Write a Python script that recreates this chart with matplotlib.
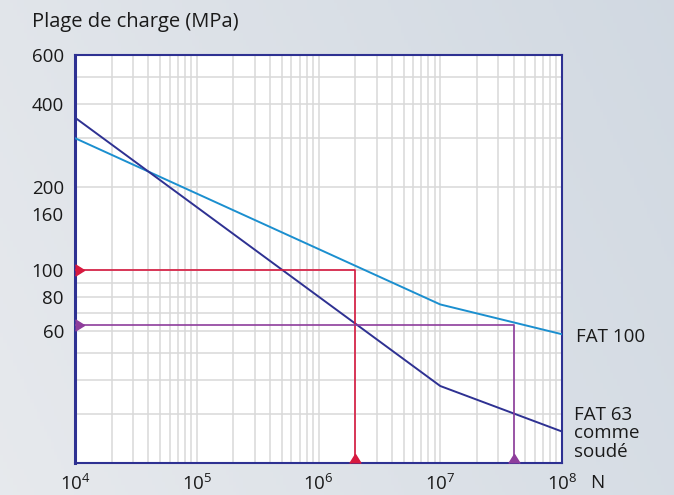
import numpy as np
import matplotlib.pyplot as plt
from matplotlib.ticker import FixedLocator, NullFormatter

plt.rcParams['font.family'] = ['Open Sans', 'DejaVu Sans']
plt.rcParams['mathtext.fontset'] = 'custom'
plt.rcParams['mathtext.rm'] = 'Open Sans'
plt.rcParams['mathtext.it'] = 'Open Sans'

# data
n_fat100 = [1e4, 1e7, 1e8]
s_fat100 = [300, 75, 58.5]
n_fat63 = [1e4, 1e7, 1e8]
s_fat63 = [356, 38, 26]
n_red, s_red = 2e6, 100      # 2 millions de cycles a 100 MPa
n_purple, s_purple = 4e7, 63

x_ticks = [1e4, 1e5, 1e6, 1e7, 1e8]
x_labels = ['$10^{4}$', '$10^{5}$', '$10^{6}$', '$10^{7}$', '$10^{8}$']
y_ticks = [60, 80, 100, 160, 200, 400, 600]
y_grid = [20, 30, 40, 50, 60, 70, 80, 90, 100, 200, 300, 400, 500]
y_min, y_max = 20, 600
x_min, x_max = 1e4, 1e8

navy = '#2e3192'
cyan = '#1b8fcf'
red = '#d7193f'
purple = '#8e3d9c'

fig = plt.figure(figsize=(6.74, 4.95), dpi=100)

# background gradient
bg = fig.add_axes([0, 0, 1, 1], zorder=-10)
gx = np.linspace(0, 1, 200)
gy = np.linspace(0, 1, 150)
GX, GY = np.meshgrid(gx, gy)
c0 = np.array([0.905, 0.915, 0.93])
c1 = np.array([0.82, 0.85, 0.885])
t = np.clip(0.75 * GX + 0.25 * (1 - GY), 0, 1)[..., None]
bg.imshow(c0 * (1 - t) + c1 * t, extent=[0, 1, 0, 1], aspect='auto')
bg.axis('off')

ax = fig.add_axes([75 / 674, 1 - 463 / 495, 487 / 674, 408 / 495])
ax.set_facecolor('white')
ax.set_xscale('log')
ax.set_yscale('log')
ax.set_xlim(x_min, x_max)
ax.set_ylim(y_min, y_max)

ax.set_xticks(x_ticks, x_labels)
ax.set_yticks(y_ticks, [str(v) for v in y_ticks])
ax.yaxis.set_minor_locator(FixedLocator(y_grid))
ax.yaxis.set_minor_formatter(NullFormatter())
ax.xaxis.set_minor_formatter(NullFormatter())
ax.yaxis.remove_overlapping_locs = False
ax.tick_params(which='both', length=0, labelsize=13.5, colors='#1a1a1a')
ax.tick_params(axis='y', pad=8)
ax.tick_params(axis='x', pad=8)
ax.grid(True, which='both', axis='x', color='#d8d8d8', lw=1.1)
ax.grid(False, which='major', axis='y')
ax.grid(True, which='minor', axis='y', color='#d8d8d8', lw=1.1)
ax.set_axisbelow(True)

for side in ['top', 'right', 'bottom']:
    ax.spines[side].set_color(navy)
    ax.spines[side].set_linewidth(1.5)
ax.spines['left'].set_color(navy)
ax.spines['left'].set_linewidth(2.2)

# S-N curves
ax.plot(n_fat100, s_fat100, color=cyan, lw=1.4, zorder=3)
ax.plot(n_fat63, s_fat63, color=navy, lw=1.4, zorder=3)

# reading lines
ax.plot([x_min, n_red, n_red], [s_red, s_red, y_min], color=red, lw=1.2, zorder=4)
ax.plot([x_min, n_purple, n_purple], [s_purple, s_purple, y_min], color=purple, lw=1.2, zorder=4)

tri_right = [(0, -5), (8, 0), (0, 5)]
tri_up = [(-5, 0), (0, 8), (5, 0)]
ax.plot([x_min], [s_red], marker=tri_right, ms=13, color=red, clip_on=False, zorder=5)
ax.plot([n_red], [y_min], marker=tri_up, ms=13, color=red, clip_on=False, zorder=5)
ax.plot([x_min], [s_purple], marker=tri_right, ms=13, color=purple, clip_on=False, zorder=5)
ax.plot([n_purple], [y_min], marker=tri_up, ms=13, color=purple, clip_on=False, zorder=5)

trans = ax.get_yaxis_transform()
ax.text(1.029, 57, 'FAT 100', transform=trans, fontsize=13.5,
        va='center', ha='left', color='#1a1a1a')
ax.text(1.024, 25.6, 'FAT 63\ncomme\nsoudé', transform=trans, fontsize=13.5,
        va='center', ha='left', linespacing=1.05, color='#1a1a1a')
ax.text(1.057, -0.05, 'N', transform=ax.transAxes, fontsize=13.5,
        va='center', ha='left', color='#1a1a1a')

fig.text(32 / 674, 1 - 22 / 495, 'Plage de charge (MPa)', fontsize=14.5,
         va='center', ha='left', color='#1a1a1a')

fig.savefig('out.png', dpi=100)
